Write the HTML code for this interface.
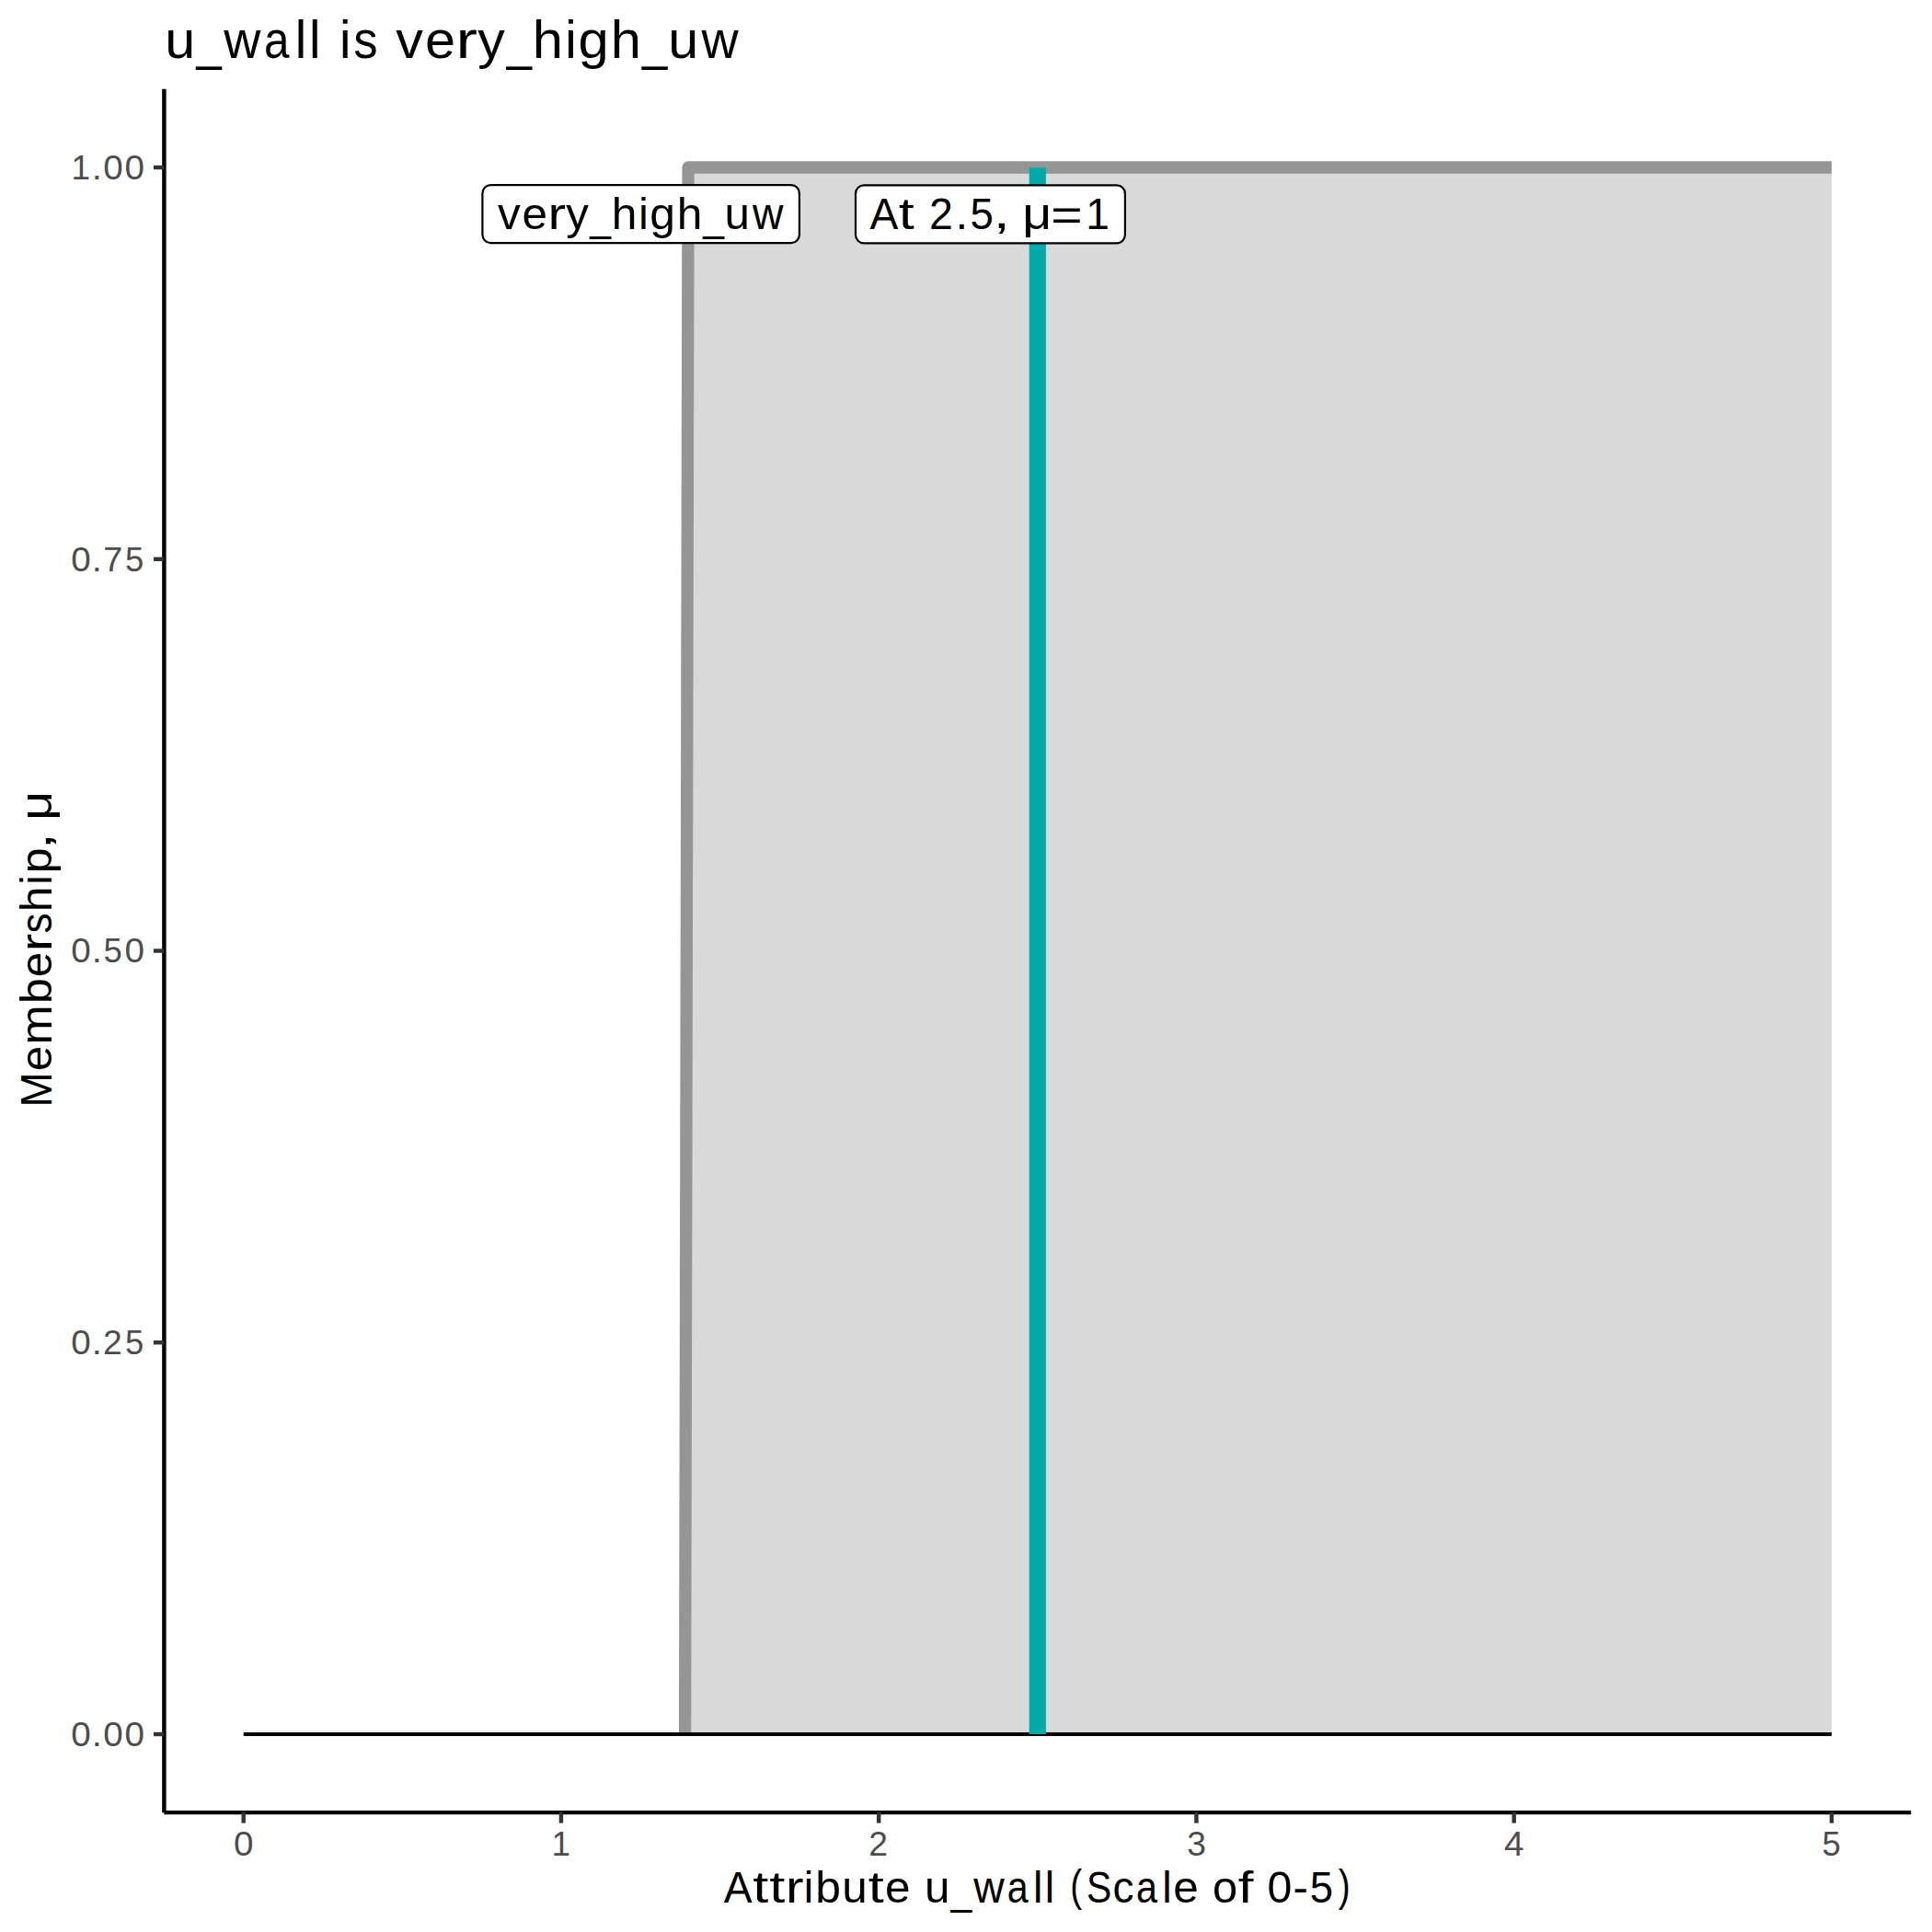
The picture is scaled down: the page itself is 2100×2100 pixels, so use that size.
<!DOCTYPE html>
<html><head><meta charset="utf-8"><title>u_wall is very_high_uw</title>
<style>
html,body{margin:0;padding:0;background:#fff;overflow:hidden;}
svg{display:block;}
text{font-family:"Liberation Sans",sans-serif;}
</style></head>
<body>
<svg width="2100" height="2100" viewBox="0 0 2100 2100">
<rect x="0" y="0" width="2100" height="2100" fill="#ffffff"/>
<polygon points="744.58,1885.00 748.04,182.00 1990.90,182.00 1990.90,1885.00" fill="#D9D9D9"/>
<polyline points="744.58,1885.00 748.04,182.00 1990.90,182.00" fill="none" stroke="#959595" stroke-width="13.3" stroke-linejoin="round" stroke-linecap="butt"/>
<line x1="264.70" y1="1885.00" x2="1990.90" y2="1885.00" stroke="#000" stroke-width="4.2"/>
<line x1="1127.80" y1="1885.00" x2="1127.80" y2="182.00" stroke="#01ABAB" stroke-width="18.2"/>
<rect x="524.4" y="201.2" width="344.50" height="62.90" rx="9" ry="9" fill="#fff" stroke="#000" stroke-width="2.2"/>
<text y="249.00" font-size="48.35" fill="#000" lengthAdjust="spacingAndGlyphs"><tspan x="541.07" y="249.00" textLength="24.73" lengthAdjust="spacingAndGlyphs">v</tspan><tspan x="567.42" y="249.00" textLength="27.53" lengthAdjust="spacingAndGlyphs">e</tspan><tspan x="595.45" y="249.00" textLength="19.55" lengthAdjust="spacingAndGlyphs">r</tspan><tspan x="615.28" y="249.00" textLength="24.61" lengthAdjust="spacingAndGlyphs">y</tspan><tspan x="641.32" y="250.13" textLength="22.73" lengthAdjust="spacingAndGlyphs">_</tspan><tspan x="664.78" y="249.00" textLength="27.67" lengthAdjust="spacingAndGlyphs">h</tspan><tspan x="694.30" y="249.00" textLength="10.41" lengthAdjust="spacingAndGlyphs">i</tspan><tspan x="706.28" y="249.00" textLength="27.70" lengthAdjust="spacingAndGlyphs">g</tspan><tspan x="735.65" y="249.00" textLength="27.67" lengthAdjust="spacingAndGlyphs">h</tspan><tspan x="764.16" y="250.13" textLength="22.73" lengthAdjust="spacingAndGlyphs">_</tspan><tspan x="787.59" y="249.00" textLength="27.48" lengthAdjust="spacingAndGlyphs">u</tspan><tspan x="817.94" y="249.00" textLength="33.45" lengthAdjust="spacingAndGlyphs">w</tspan></text>
<rect x="930.0" y="201.3" width="292.90" height="63.00" rx="9" ry="9" fill="#fff" stroke="#000" stroke-width="2.2"/>
<text y="248.90" font-size="48.35" fill="#000" lengthAdjust="spacingAndGlyphs"><tspan x="945.40" y="248.90" textLength="30.79" lengthAdjust="spacingAndGlyphs">A</tspan><tspan x="976.79" y="248.90" textLength="17.02" lengthAdjust="spacingAndGlyphs">t</tspan><tspan x="994.46" y="248.90"> </tspan><tspan x="1010.04" y="248.90" textLength="25.90" lengthAdjust="spacingAndGlyphs">2</tspan><tspan x="1038.56" y="248.90" textLength="13.78" lengthAdjust="spacingAndGlyphs">.</tspan><tspan x="1054.46" y="248.90" textLength="25.36" lengthAdjust="spacingAndGlyphs">5</tspan><tspan x="1079.44" y="248.21" textLength="18.56" lengthAdjust="spacingAndGlyphs">,</tspan><tspan x="1096.48" y="248.90"> </tspan><tspan x="1111.20" y="248.90" textLength="31.94" lengthAdjust="spacingAndGlyphs">μ</tspan><tspan x="1142.18" y="250.47" textLength="34.48" lengthAdjust="spacingAndGlyphs">=</tspan><tspan x="1180.13" y="248.90" textLength="25.66" lengthAdjust="spacingAndGlyphs">1</tspan></text>
<line x1="178.39" y1="96.85" x2="178.39" y2="1970.15" stroke="#000" stroke-width="4.44"/>
<line x1="178.39" y1="1970.15" x2="2077.21" y2="1970.15" stroke="#000" stroke-width="4.44"/>
<line x1="166.93" y1="1885.00" x2="178.39" y2="1885.00" stroke="#333333" stroke-width="4.44"/>
<text y="1897.90" font-size="37.40" fill="#4D4D4D" lengthAdjust="spacingAndGlyphs"><tspan x="77.16" y="1897.90" textLength="21.50" lengthAdjust="spacingAndGlyphs">0</tspan><tspan x="99.88" y="1897.90" textLength="11.02" lengthAdjust="spacingAndGlyphs">.</tspan><tspan x="112.15" y="1897.90" textLength="21.50" lengthAdjust="spacingAndGlyphs">0</tspan><tspan x="135.48" y="1897.90" textLength="21.50" lengthAdjust="spacingAndGlyphs">0</tspan></text>
<line x1="166.93" y1="1459.25" x2="178.39" y2="1459.25" stroke="#333333" stroke-width="4.44"/>
<text y="1472.15" font-size="37.40" fill="#4D4D4D" lengthAdjust="spacingAndGlyphs"><tspan x="77.16" y="1472.15" textLength="21.50" lengthAdjust="spacingAndGlyphs">0</tspan><tspan x="99.88" y="1472.15" textLength="11.02" lengthAdjust="spacingAndGlyphs">.</tspan><tspan x="112.05" y="1472.15" textLength="20.72" lengthAdjust="spacingAndGlyphs">2</tspan><tspan x="135.94" y="1472.15" textLength="20.29" lengthAdjust="spacingAndGlyphs">5</tspan></text>
<line x1="166.93" y1="1033.50" x2="178.39" y2="1033.50" stroke="#333333" stroke-width="4.44"/>
<text y="1046.40" font-size="37.40" fill="#4D4D4D" lengthAdjust="spacingAndGlyphs"><tspan x="77.16" y="1046.40" textLength="21.50" lengthAdjust="spacingAndGlyphs">0</tspan><tspan x="99.88" y="1046.40" textLength="11.02" lengthAdjust="spacingAndGlyphs">.</tspan><tspan x="112.61" y="1046.40" textLength="20.29" lengthAdjust="spacingAndGlyphs">5</tspan><tspan x="135.48" y="1046.40" textLength="21.50" lengthAdjust="spacingAndGlyphs">0</tspan></text>
<line x1="166.93" y1="607.75" x2="178.39" y2="607.75" stroke="#333333" stroke-width="4.44"/>
<text y="620.65" font-size="37.40" fill="#4D4D4D" lengthAdjust="spacingAndGlyphs"><tspan x="77.16" y="620.65" textLength="21.50" lengthAdjust="spacingAndGlyphs">0</tspan><tspan x="99.88" y="620.65" textLength="11.02" lengthAdjust="spacingAndGlyphs">.</tspan><tspan x="112.31" y="620.65" textLength="21.03" lengthAdjust="spacingAndGlyphs">7</tspan><tspan x="135.94" y="620.65" textLength="20.29" lengthAdjust="spacingAndGlyphs">5</tspan></text>
<line x1="166.93" y1="182.00" x2="178.39" y2="182.00" stroke="#333333" stroke-width="4.44"/>
<text y="194.90" font-size="37.40" fill="#4D4D4D" lengthAdjust="spacingAndGlyphs"><tspan x="77.47" y="194.90" textLength="20.53" lengthAdjust="spacingAndGlyphs">1</tspan><tspan x="99.88" y="194.90" textLength="11.02" lengthAdjust="spacingAndGlyphs">.</tspan><tspan x="112.15" y="194.90" textLength="21.50" lengthAdjust="spacingAndGlyphs">0</tspan><tspan x="135.48" y="194.90" textLength="21.50" lengthAdjust="spacingAndGlyphs">0</tspan></text>
<line x1="264.70" y1="1970.15" x2="264.70" y2="1981.61" stroke="#333333" stroke-width="4.44"/>
<text y="2017.30" font-size="37.40" fill="#4D4D4D" lengthAdjust="spacingAndGlyphs"><tspan x="253.94" y="2017.30" textLength="21.50" lengthAdjust="spacingAndGlyphs">0</tspan></text>
<line x1="609.94" y1="1970.15" x2="609.94" y2="1981.61" stroke="#333333" stroke-width="4.44"/>
<text y="2017.30" font-size="37.40" fill="#4D4D4D" lengthAdjust="spacingAndGlyphs"><tspan x="599.49" y="2017.30" textLength="20.53" lengthAdjust="spacingAndGlyphs">1</tspan></text>
<line x1="955.18" y1="1970.15" x2="955.18" y2="1981.61" stroke="#333333" stroke-width="4.44"/>
<text y="2017.30" font-size="37.40" fill="#4D4D4D" lengthAdjust="spacingAndGlyphs"><tspan x="944.33" y="2017.30" textLength="20.72" lengthAdjust="spacingAndGlyphs">2</tspan></text>
<line x1="1300.42" y1="1970.15" x2="1300.42" y2="1981.61" stroke="#333333" stroke-width="4.44"/>
<text y="2017.30" font-size="37.40" fill="#4D4D4D" lengthAdjust="spacingAndGlyphs"><tspan x="1290.13" y="2017.30" textLength="20.65" lengthAdjust="spacingAndGlyphs">3</tspan></text>
<line x1="1645.66" y1="1970.15" x2="1645.66" y2="1981.61" stroke="#333333" stroke-width="4.44"/>
<text y="2017.30" font-size="37.40" fill="#4D4D4D" lengthAdjust="spacingAndGlyphs"><tspan x="1634.90" y="2017.30" textLength="21.50" lengthAdjust="spacingAndGlyphs">4</tspan></text>
<line x1="1990.90" y1="1970.15" x2="1990.90" y2="1981.61" stroke="#333333" stroke-width="4.44"/>
<text y="2017.30" font-size="37.40" fill="#4D4D4D" lengthAdjust="spacingAndGlyphs"><tspan x="1980.60" y="2017.30" textLength="20.29" lengthAdjust="spacingAndGlyphs">5</tspan></text>
<text y="63.20" font-size="58.02" fill="#000" lengthAdjust="spacingAndGlyphs"><tspan x="179.21" y="63.20" textLength="32.98" lengthAdjust="spacingAndGlyphs">u</tspan><tspan x="213.45" y="64.56" textLength="27.28" lengthAdjust="spacingAndGlyphs">_</tspan><tspan x="243.14" y="63.20" textLength="40.15" lengthAdjust="spacingAndGlyphs">w</tspan><tspan x="286.93" y="63.20" textLength="27.51" lengthAdjust="spacingAndGlyphs">a</tspan><tspan x="320.83" y="63.20" textLength="12.49" lengthAdjust="spacingAndGlyphs">l</tspan><tspan x="336.11" y="63.20" textLength="12.49" lengthAdjust="spacingAndGlyphs">l</tspan><tspan x="350.00" y="63.20"> </tspan><tspan x="368.90" y="63.20" textLength="12.49" lengthAdjust="spacingAndGlyphs">i</tspan><tspan x="384.27" y="63.20" textLength="26.36" lengthAdjust="spacingAndGlyphs">s</tspan><tspan x="411.41" y="63.20"> </tspan><tspan x="430.33" y="63.20" textLength="29.68" lengthAdjust="spacingAndGlyphs">v</tspan><tspan x="461.96" y="63.20" textLength="33.04" lengthAdjust="spacingAndGlyphs">e</tspan><tspan x="495.60" y="63.20" textLength="23.47" lengthAdjust="spacingAndGlyphs">r</tspan><tspan x="519.39" y="63.20" textLength="29.53" lengthAdjust="spacingAndGlyphs">y</tspan><tspan x="550.65" y="64.56" textLength="27.28" lengthAdjust="spacingAndGlyphs">_</tspan><tspan x="578.80" y="63.20" textLength="33.21" lengthAdjust="spacingAndGlyphs">h</tspan><tspan x="614.23" y="63.20" textLength="12.49" lengthAdjust="spacingAndGlyphs">i</tspan><tspan x="628.61" y="63.20" textLength="33.25" lengthAdjust="spacingAndGlyphs">g</tspan><tspan x="663.85" y="63.20" textLength="33.21" lengthAdjust="spacingAndGlyphs">h</tspan><tspan x="698.06" y="64.56" textLength="27.28" lengthAdjust="spacingAndGlyphs">_</tspan><tspan x="726.18" y="63.20" textLength="32.98" lengthAdjust="spacingAndGlyphs">u</tspan><tspan x="762.60" y="63.20" textLength="40.15" lengthAdjust="spacingAndGlyphs">w</tspan></text>
<text y="2067.80" font-size="48.35" fill="#000" lengthAdjust="spacingAndGlyphs"><tspan x="786.80" y="2067.80" textLength="30.79" lengthAdjust="spacingAndGlyphs">A</tspan><tspan x="818.19" y="2067.80" textLength="17.02" lengthAdjust="spacingAndGlyphs">t</tspan><tspan x="836.16" y="2067.80" textLength="17.02" lengthAdjust="spacingAndGlyphs">t</tspan><tspan x="854.09" y="2067.80" textLength="19.55" lengthAdjust="spacingAndGlyphs">r</tspan><tspan x="873.85" y="2067.80" textLength="10.41" lengthAdjust="spacingAndGlyphs">i</tspan><tspan x="886.35" y="2067.80" textLength="27.73" lengthAdjust="spacingAndGlyphs">b</tspan><tspan x="915.18" y="2067.80" textLength="27.48" lengthAdjust="spacingAndGlyphs">u</tspan><tspan x="943.84" y="2067.80" textLength="17.02" lengthAdjust="spacingAndGlyphs">t</tspan><tspan x="961.94" y="2067.80" textLength="27.53" lengthAdjust="spacingAndGlyphs">e</tspan><tspan x="989.71" y="2067.80"> </tspan><tspan x="1004.96" y="2067.80" textLength="27.48" lengthAdjust="spacingAndGlyphs">u</tspan><tspan x="1033.49" y="2068.93" textLength="22.73" lengthAdjust="spacingAndGlyphs">_</tspan><tspan x="1058.23" y="2067.80" textLength="33.45" lengthAdjust="spacingAndGlyphs">w</tspan><tspan x="1094.72" y="2067.80" textLength="22.92" lengthAdjust="spacingAndGlyphs">a</tspan><tspan x="1122.96" y="2067.80" textLength="10.41" lengthAdjust="spacingAndGlyphs">l</tspan><tspan x="1135.70" y="2067.80" textLength="10.41" lengthAdjust="spacingAndGlyphs">l</tspan><tspan x="1147.27" y="2067.80"> </tspan><tspan x="1163.37" y="2065.95" textLength="12.90" lengthAdjust="spacingAndGlyphs">(</tspan><tspan x="1180.88" y="2067.80" textLength="27.25" lengthAdjust="spacingAndGlyphs">S</tspan><tspan x="1209.38" y="2067.80" textLength="22.99" lengthAdjust="spacingAndGlyphs">c</tspan><tspan x="1235.01" y="2067.80" textLength="22.92" lengthAdjust="spacingAndGlyphs">a</tspan><tspan x="1263.25" y="2067.80" textLength="10.41" lengthAdjust="spacingAndGlyphs">l</tspan><tspan x="1275.25" y="2067.80" textLength="27.53" lengthAdjust="spacingAndGlyphs">e</tspan><tspan x="1303.02" y="2067.80"> </tspan><tspan x="1318.07" y="2067.80" textLength="27.10" lengthAdjust="spacingAndGlyphs">o</tspan><tspan x="1345.83" y="2067.80" textLength="16.72" lengthAdjust="spacingAndGlyphs">f</tspan><tspan x="1361.76" y="2067.80"> </tspan><tspan x="1377.46" y="2067.80" textLength="26.87" lengthAdjust="spacingAndGlyphs">0</tspan><tspan x="1405.53" y="2067.80" textLength="16.45" lengthAdjust="spacingAndGlyphs">-</tspan><tspan x="1423.74" y="2067.80" textLength="25.36" lengthAdjust="spacingAndGlyphs">5</tspan><tspan x="1454.63" y="2065.95" textLength="12.90" lengthAdjust="spacingAndGlyphs">)</tspan></text>
<g transform="translate(56,1033.50) rotate(-90)"><text y="0.00" font-size="48.35" fill="#000" lengthAdjust="spacingAndGlyphs"><tspan x="-170.03" y="0.00" textLength="38.07" lengthAdjust="spacingAndGlyphs">M</tspan><tspan x="-130.81" y="0.00" textLength="27.53" lengthAdjust="spacingAndGlyphs">e</tspan><tspan x="-102.34" y="0.00" textLength="43.50" lengthAdjust="spacingAndGlyphs">m</tspan><tspan x="-57.45" y="0.00" textLength="27.73" lengthAdjust="spacingAndGlyphs">b</tspan><tspan x="-28.88" y="0.00" textLength="27.53" lengthAdjust="spacingAndGlyphs">e</tspan><tspan x="-0.84" y="0.00" textLength="19.55" lengthAdjust="spacingAndGlyphs">r</tspan><tspan x="19.00" y="0.00" textLength="21.97" lengthAdjust="spacingAndGlyphs">s</tspan><tspan x="42.32" y="0.00" textLength="27.67" lengthAdjust="spacingAndGlyphs">h</tspan><tspan x="71.84" y="0.00" textLength="10.41" lengthAdjust="spacingAndGlyphs">i</tspan><tspan x="84.34" y="0.00" textLength="27.73" lengthAdjust="spacingAndGlyphs">p</tspan><tspan x="110.02" y="-0.69" textLength="18.56" lengthAdjust="spacingAndGlyphs">,</tspan><tspan x="127.05" y="0.00"> </tspan><tspan x="141.78" y="0.00" textLength="31.94" lengthAdjust="spacingAndGlyphs">μ</tspan></text></g>
</svg>
</body></html>
